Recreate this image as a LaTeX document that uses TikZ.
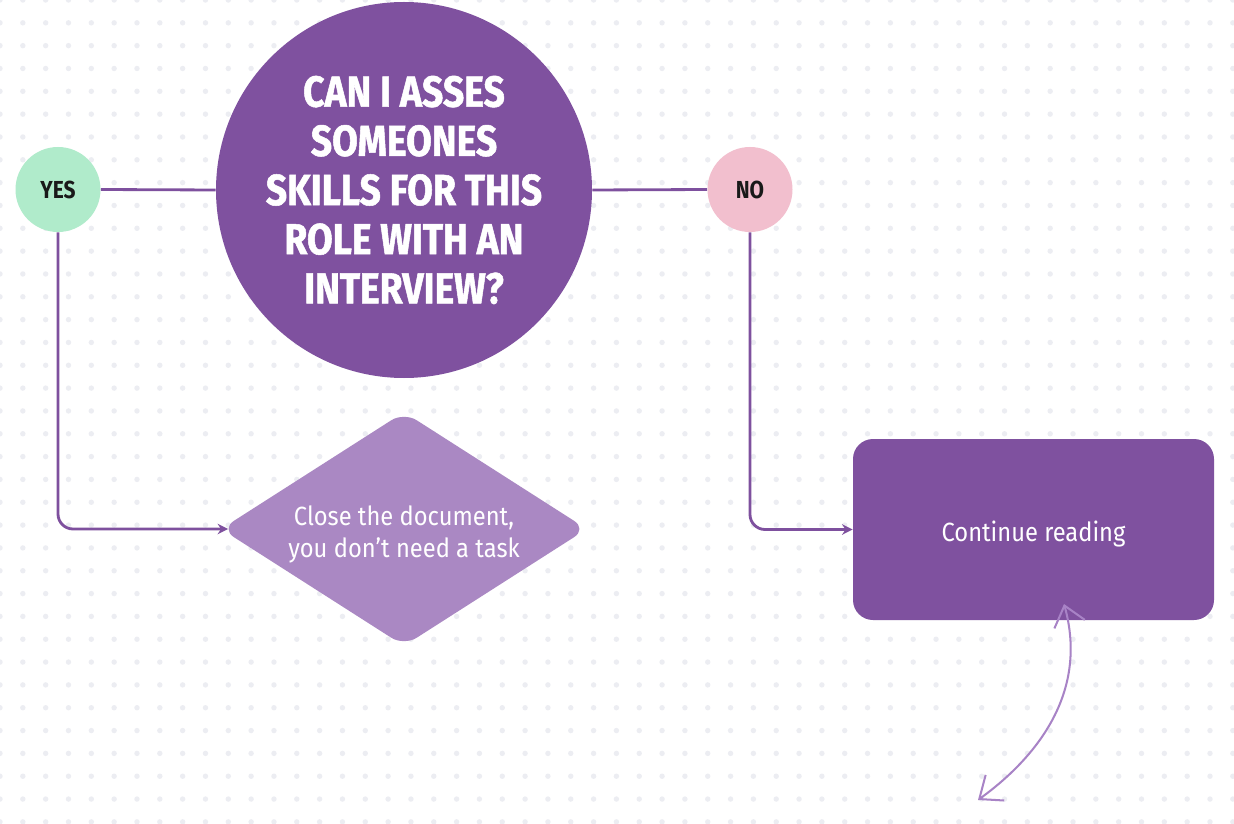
\documentclass[tikz,border=0pt]{standalone}
\usepackage{fontspec}
\usetikzlibrary{shapes.geometric,arrows.meta}
\setmainfont{Fira Sans}
\newfontfamily\titlefont[FakeStretch=0.86,FakeBold=1.2]{Fira Sans}
\newfontfamily\answerfont[FakeStretch=0.85]{Fira Sans}
\newfontfamily\bodyfont[FakeStretch=0.9]{Fira Sans}
\definecolor{dotgray}{HTML}{ECEDF2}
\definecolor{deeppurple}{HTML}{7F519F}
\definecolor{midpurple}{HTML}{AA88C3}
\definecolor{lightpurple}{HTML}{A883C6}
\definecolor{mint}{HTML}{B0EBCB}
\definecolor{pink}{HTML}{F2BFCE}
\definecolor{linepurple}{HTML}{7E509E}
\tikzset{
  answer/.style={circle, inner sep=0pt, minimum size=85*0.02cm, text=black!90,
    font=\answerfont\bfseries\fontsize{14}{16}\selectfont},
  conn/.style={draw=linepurple, line width=1.6pt, rounded corners=0.3cm},
  tip/.style={-{Stealth[length=6pt,width=6pt]}},
  swoop/.style={draw=lightpurple, line width=1.15pt, line cap=round,
    {Straight Barb[length=11pt,width=18pt]}-{Straight Barb[length=11pt,width=18pt]}},
  bodytext/.style={text=white, align=center, font=\bodyfont\fontsize{15}{18.2}\selectfont}
}
\begin{document}
\begin{tikzpicture}[x=0.02cm,y=-0.02cm]
\useasboundingbox[fill=white] (0,0) rectangle (1234,824);
% dot grid
\foreach \i in {0,...,54}{
  \foreach \j in {0,...,36}{
    \fill[dotgray] (\i*22.83,\j*22.83) circle (2.7);
  }
}
% nodes
\node[circle, fill=deeppurple, inner sep=0pt, minimum size=376*0.02cm, text=white, align=center,
  font=\titlefont\bfseries\fontsize{24.7}{28}\selectfont] (q) at (404,190)
  {CAN I ASSES\\SOMEONES\\SKILLS FOR THIS\\ROLE WITH AN\\INTERVIEW?};
\node[answer, fill=mint] (yes) at (58,189.5) {YES};
\node[answer, fill=pink] (no) at (750,189.5) {NO};
\node[diamond, fill=midpurple, inner sep=0pt, shape aspect=1.564,
  minimum width=366*0.02cm, minimum height=234*0.02cm,
  rounded corners=0.3cm] (dia) at (404,529) {};
\node[bodytext] (diatext) at (404,534) {Close the document,\\you don’t need a task};
\node[rectangle, fill=deeppurple, minimum width=361*0.02cm, minimum height=181*0.02cm,
  rounded corners=0.4cm] (cont) at (1033.5,529.5) {};
\node[bodytext] (conttext) at (1033.5,534) {Continue reading};
% connectors
\draw[conn] (yes.east) -- (q.west);
\draw[conn] (q.east) -- (no.west);
\draw[conn, tip, shorten >=-0.15cm] (yes.south) |- (dia.west);
\draw[conn, tip] (no.south) |- (cont.west);
\coordinate (s1) at (1064,604);
\coordinate (s2) at (978,800);
\draw[swoop] (s1) .. controls (1088,690) and (1040,755) .. (s2);
\end{tikzpicture}
\end{document}
